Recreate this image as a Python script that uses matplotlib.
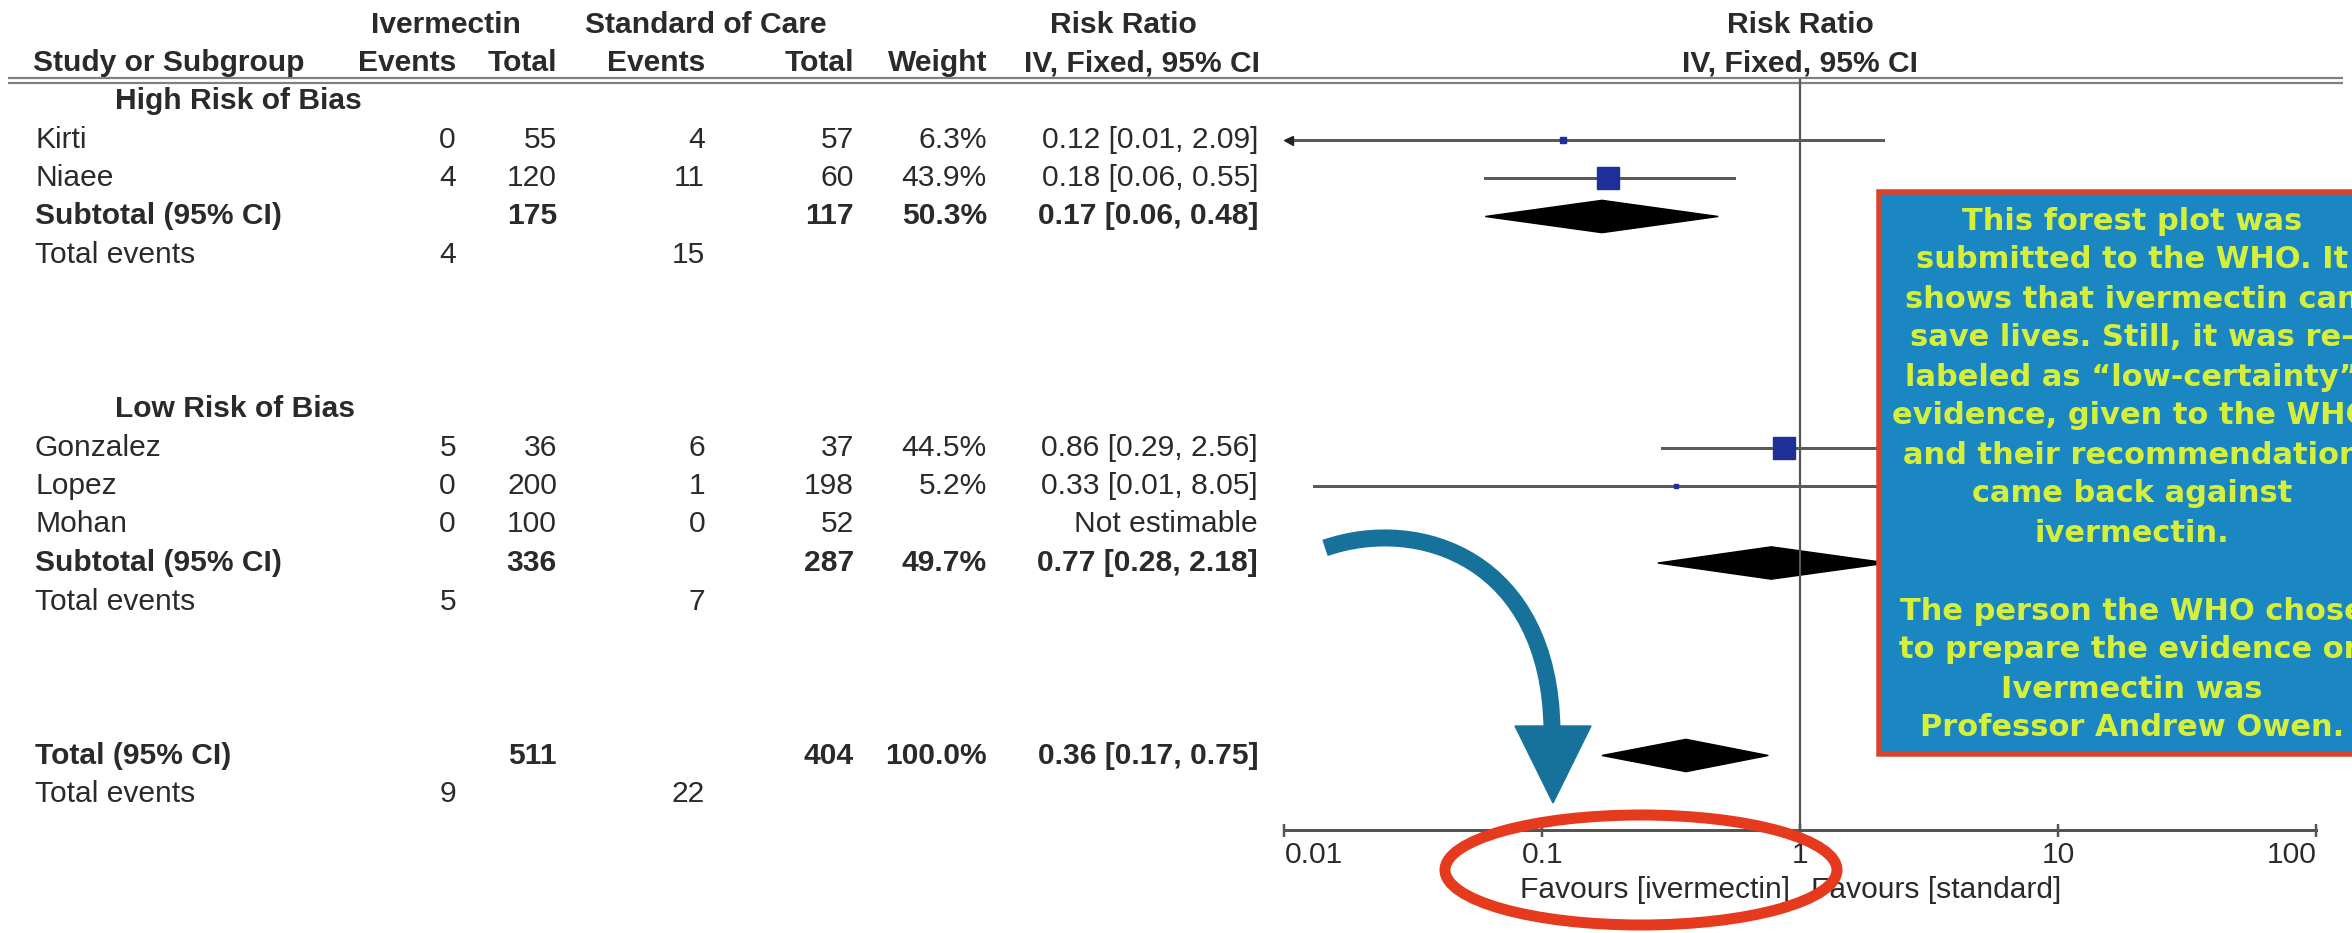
import matplotlib.pyplot as plt
from matplotlib.patches import Rectangle, Ellipse, Polygon, PathPatch
from matplotlib.path import Path
from matplotlib.ticker import NullLocator

plt.rcParams["font.family"] = ["Liberation Sans", "DejaVu Sans"]

# ---- data ----
studies = ["Kirti", "Niaee", "Gonzalez", "Lopez", "Mohan"]
study_group = [0, 0, 1, 1, 1]
iv_events = [0, 4, 5, 0, 0]
iv_total = [55, 120, 36, 200, 100]
soc_events = [4, 11, 6, 1, 0]
soc_total = [57, 60, 37, 198, 52]
weights = [6.3, 43.9, 44.5, 5.2, None]
rr = [0.12, 0.18, 0.86, 0.33, None]
rr_lo = [0.007, 0.06, 0.29, 0.013, None]
rr_hi = [2.09, 0.55, 2.56, 8.05, None]

groups = ["High Risk of Bias", "Low Risk of Bias"]
sub_iv_total = [175, 336]
sub_soc_total = [117, 287]
sub_weight = [50.3, 49.7]
sub_rr = [0.17, 0.77]
sub_lo = [0.06, 0.28]
sub_hi = [0.48, 2.18]
sub_iv_events = [4, 5]
sub_soc_events = [15, 7]

tot_iv_total, tot_soc_total, tot_weight = 511, 404, 100.0
tot_rr, tot_lo, tot_hi = 0.36, 0.17, 0.75
tot_iv_events, tot_soc_events = 9, 22

xticks = [0.01, 0.1, 1, 10, 100]
xtick_labels = ["0.01", "0.1", "1", "10", "100"]

note_lines = [
    "This forest plot was",
    "submitted to the WHO. It",
    "shows that ivermectin can",
    "save lives. Still, it was re-",
    "labeled as \u201clow-certainty\u201d",
    "evidence, given to the WHO",
    "and their recommendation",
    "came back against",
    "ivermectin.",
    "",
    "The person the WHO chose",
    "to prepare the evidence on",
    "Ivermectin was",
    "Professor Andrew Owen.",
]

# ---- layout ----
W, H, DPI = 2352, 933, 100
PX = 72 / DPI
ROW0, STEP = 101, 38.5
FS = 21.6
TXT = "#2a2a2a"
LINE = "#555555"
NAVY = "#1f2f99"


def row_of(ypx):
    return (ypx - ROW0) / STEP


group_start = [0, 8]
total_row = 17
axis_row = row_of(830)
header_row = row_of(80)

fig = plt.figure(figsize=(W / DPI, H / DPI), dpi=DPI)
tab = fig.add_axes([0, 0, 1, 1])
tab.set_xlim(0, W)
tab.set_ylim(row_of(H), row_of(0))
tab.axis("off")

x_name, x_group = 35, 115
c_iv_e, c_iv_t, c_soc_e, c_soc_t, c_w, c_ci = 456, 557, 705, 854, 987, 1258


def put(x, y, s, ha="right", bold=False):
    tab.text(x, y, s, ha=ha, va="center", fontsize=FS, color=TXT,
             fontweight="bold" if bold else "normal")


def ci_text(r, lo, hi):
    return f"{r:.2f} [{lo:.2f}, {hi:.2f}]"


# headers
h1, h2 = row_of(25), row_of(63)
put(446, h1, "Ivermectin", ha="center", bold=True)
put(706, h1, "Standard of Care", ha="center", bold=True)
put(1123, h1, "Risk Ratio", ha="center", bold=True)
put(33, h2, "Study or Subgroup", ha="left", bold=True)
put(c_iv_e, h2, "Events", bold=True)
put(c_iv_t, h2, "Total", bold=True)
put(c_soc_e, h2, "Events", bold=True)
put(c_soc_t, h2, "Total", bold=True)
put(c_w, h2, "Weight", bold=True)
put(1260, h2, "IV, Fixed, 95% CI", bold=True)
for dy in (-2.5, 2.5):
    yl = row_of(80 + dy)
    tab.plot([8, 2343], [yl, yl], color="#808080", lw=2.2 * PX,
             solid_capstyle="butt")

# study and subtotal rows
study_rows = []
for g, name in enumerate(groups):
    r0 = group_start[g]
    put(x_group, r0, name, ha="left", bold=True)
    r = r0 + 1
    for i, s in enumerate(studies):
        if study_group[i] != g:
            continue
        put(x_name, r, s, ha="left")
        put(c_iv_e, r, str(iv_events[i]))
        put(c_iv_t, r, str(iv_total[i]))
        put(c_soc_e, r, str(soc_events[i]))
        put(c_soc_t, r, str(soc_total[i]))
        if rr[i] is None:
            put(c_ci, r, "Not estimable")
        else:
            put(c_w, r, f"{weights[i]:.1f}%")
            put(c_ci, r, ci_text(rr[i], rr_lo[i], rr_hi[i]))
        study_rows.append(r)
        r += 1
    put(x_name, r, "Subtotal (95% CI)", ha="left", bold=True)
    put(c_iv_t, r, str(sub_iv_total[g]), bold=True)
    put(c_soc_t, r, str(sub_soc_total[g]), bold=True)
    put(c_w, r, f"{sub_weight[g]:.1f}%", bold=True)
    put(c_ci, r, ci_text(sub_rr[g], sub_lo[g], sub_hi[g]), bold=True)
    put(x_name, r + 1, "Total events", ha="left")
    put(c_iv_e, r + 1, str(sub_iv_events[g]))
    put(c_soc_e, r + 1, str(sub_soc_events[g]))

sub_rows = [group_start[0] + 3, group_start[1] + 4]

put(x_name, total_row, "Total (95% CI)", ha="left", bold=True)
put(c_iv_t, total_row, str(tot_iv_total), bold=True)
put(c_soc_t, total_row, str(tot_soc_total), bold=True)
put(c_w, total_row, f"{tot_weight:.1f}%", bold=True)
put(c_ci, total_row, ci_text(tot_rr, tot_lo, tot_hi), bold=True)
put(x_name, total_row + 1, "Total events", ha="left")
put(c_iv_e, total_row + 1, str(tot_iv_events))
put(c_soc_e, total_row + 1, str(tot_soc_events))

# ---- forest plot ----
x_left, x_right = 1284.5, 2316.5
ax = fig.add_axes([x_left / W, 0, (x_right - x_left) / W, 1])
ax.patch.set_alpha(0)
ax.set_xscale("log")
ax.set_xlim(0.01, 100)
ax.set_ylim(row_of(H), row_of(0))
for side in ["top", "left", "right"]:
    ax.spines[side].set_visible(False)
ax.spines["bottom"].set_position(("data", axis_row))
ax.spines["bottom"].set_color(LINE)
ax.spines["bottom"].set_linewidth(3 * PX)
ax.yaxis.set_visible(False)
ax.set_xticks(xticks, labels=xtick_labels)
ax.xaxis.set_minor_locator(NullLocator())
ax.tick_params(axis="x", direction="inout", length=13 * PX, width=2.5 * PX,
               color=LINE, labelsize=FS, labelcolor=TXT, pad=3)
ticklabels = ax.xaxis.get_majorticklabels()
ticklabels[0].set_horizontalalignment("left")
ticklabels[-1].set_horizontalalignment("right")

ax.plot([1, 1], [header_row, axis_row], color=LINE, lw=2.2 * PX)
ax.text(1, h1, "Risk Ratio", ha="center", va="center", fontsize=FS,
        color=TXT, fontweight="bold")
ax.text(1, h2, "IV, Fixed, 95% CI", ha="center", va="center", fontsize=FS,
        color=TXT, fontweight="bold")

for r, est, lo, hi, w in zip(study_rows, rr, rr_lo, rr_hi, weights):
    if est is None:
        continue
    left = max(lo, 0.0103)
    ax.plot([left, hi], [r, r], color="#5a5a5a", lw=3 * PX)
    if lo < 0.01:
        ax.plot(left, r, marker="<", ms=9 * PX, color="#222222")
    side = 22 * (w / 44.5) ** 0.7
    ax.plot(est, r, marker="s", ms=side * PX, color=NAVY, mec=NAVY)


def diamond(r, est, lo, hi, half=0.42):
    ax.add_patch(Polygon([(lo, r), (est, r - half), (hi, r), (est, r + half)],
                         closed=True, color="black"))


for r, est, lo, hi in zip(sub_rows, sub_rr, sub_lo, sub_hi):
    diamond(r, est, lo, hi)
diamond(total_row, tot_rr, tot_lo, tot_hi)

ax.annotate("Favours [ivermectin]", xy=(1, axis_row), xytext=(-10, -60),
            textcoords="offset pixels", ha="right", va="center",
            fontsize=FS, color=TXT)
ax.annotate("Favours [standard]", xy=(1, axis_row), xytext=(11, -60),
            textcoords="offset pixels", ha="left", va="center",
            fontsize=FS, color=TXT)

# ---- overlay: note box, arrow, ellipse ----
ov = fig.add_axes([0, 0, 1, 1])
ov.set_xlim(0, W)
ov.set_ylim(H, 0)
ov.axis("off")
ov.patch.set_alpha(0)

ov.add_patch(Rectangle((1879, 192), 600, 562, facecolor="#1a87c2",
                       edgecolor="#d9442c", lw=5.5 * PX))
for i, line in enumerate(note_lines):
    ov.text(2132, 221 + i * 39, line, ha="center", va="center",
            fontsize=22, fontweight="bold", color="#d6ef3a",
            family=["DejaVu Sans"])

ARROW = "#17729b"
shaft = Path([(1325, 548), (1420, 515), (1550, 560), (1552, 730)],
             [Path.MOVETO, Path.CURVE4, Path.CURVE4, Path.CURVE4])
ov.add_patch(PathPatch(shaft, facecolor="none", edgecolor=ARROW,
                       lw=17 * PX, capstyle="butt"))
ov.add_patch(Polygon([(1515, 726), (1591, 726), (1553, 803)], closed=True,
                     color=ARROW))

ov.add_patch(Ellipse((1641, 870), 392, 110, facecolor="none",
                     edgecolor="#e63a1f", lw=11 * PX))

fig.savefig("out.png", dpi=DPI)
